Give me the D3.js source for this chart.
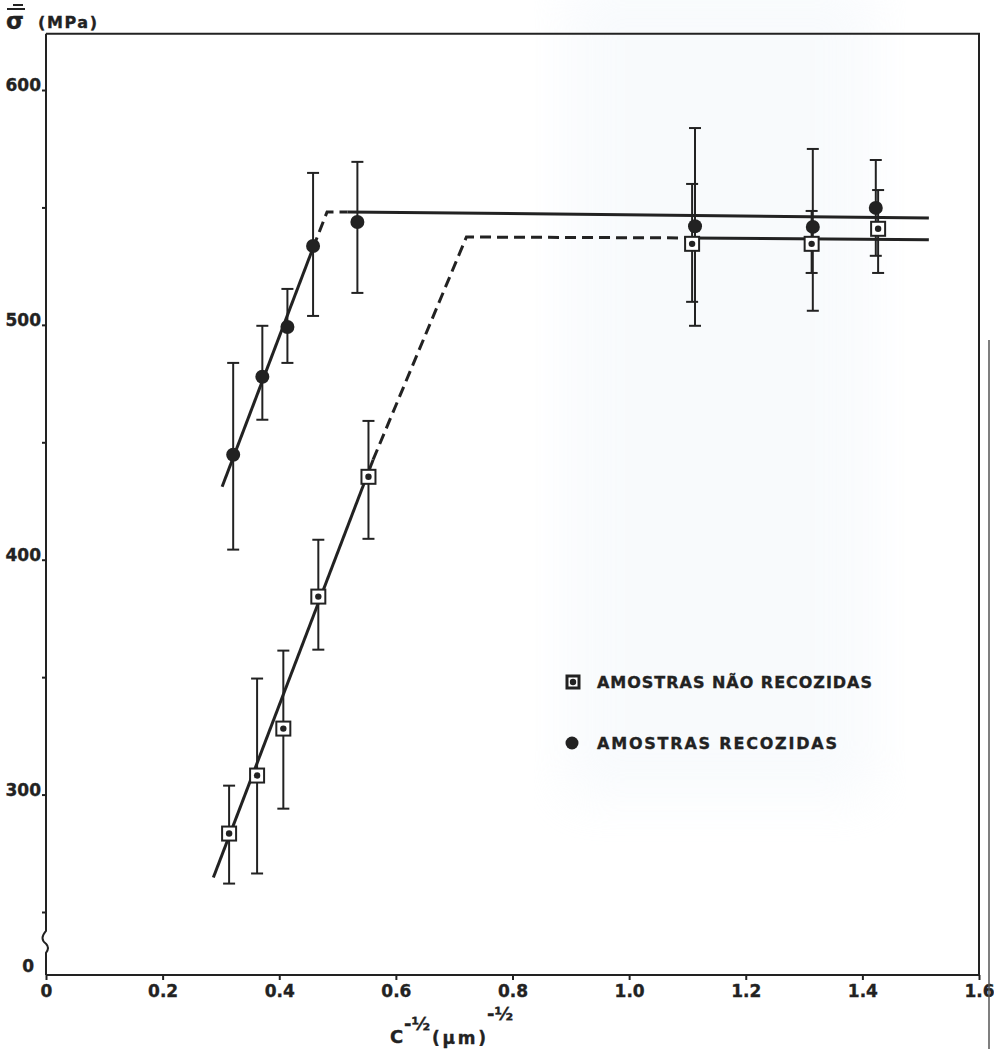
<!DOCTYPE html>
<html>
<head>
<meta charset="utf-8">
<script src="https://cdn.jsdelivr.net/npm/d3@7"></script>
<style>
  body { margin: 0; background: #fff; }
  text { font-family: "DejaVu Sans", sans-serif; font-weight: bold; fill: #222; stroke: #222; stroke-width: 0.35; }
</style>
</head>
<body>
<script>
// axis ticks
const xTicks = [0, 0.2, 0.4, 0.6, 0.8, 1.0, 1.2, 1.4, 1.6];
const xTickLabels = ["0", "0.2", "0.4", "0.6", "0.8", "1.0", "1.2", "1.4", "1.6"];
const yTicks = [300, 400, 500, 600];
const yMinorTicks = [250, 350, 450, 550];

// amostras recozidas (filled circles)
const annealedX = [0.321, 0.371, 0.414, 0.458, 0.534, 1.113, 1.315, 1.423];
const annealedY = [444.7, 477.9, 499.1, 533.6, 543.8, 542.0, 541.7, 549.8];
const annealedHi = [483.8, 499.6, 515.3, 564.7, 569.4, 583.8, 574.9, 570.2];
const annealedLo = [404.3, 459.6, 483.8, 503.8, 513.6, 499.6, 506.0, 529.4];

// amostras nao recozidas (boxed squares)
const plainX = [0.314, 0.362, 0.407, 0.467, 0.553, 1.108, 1.313, 1.427];
const plainY = [283.4, 308.1, 328.1, 384.3, 435.3, 534.5, 534.5, 540.9];
const plainHi = [303.8, 349.4, 361.3, 408.5, 459.1, 560.0, 548.5, 557.4];
const plainLo = [262.1, 266.4, 294.0, 361.7, 408.9, 509.8, 522.1, 522.1];

// fitted lines, one dash flag per segment
const annealedFitX = [0.302, 0.458, 0.482, 0.517, 1.514];
const annealedFitY = [431.1, 532.8, 548.1, 548.1, 545.5];
const annealedFitDash = [false, true, true, false];
const plainFitX = [0.287, 0.561, 0.721, 1.106, 1.514];
const plainFitY = [264.7, 442.6, 537.4, 537.0, 536.2];
const plainFitDash = [false, true, true, false];

const legendLabels = ["AMOSTRAS NÃO RECOZIDAS", "AMOSTRAS RECOZIDAS"];

const ink = "#222";
const svg = d3.select("body").append("svg")
  .attr("width", 994)
  .attr("height", 1049);

const x = d3.scaleLinear().domain([0, 1.6]).range([46, 979]);
const y = d3.scaleLinear().domain([250, 600]).range([912, 90]);
const plotTop = y(624);
const plotBottom = 975;   // broken axis: the zero line sits below the break

// faint bluish tint of the scanned paper
const defs = svg.append("defs");
defs.append("filter").attr("id", "blur")
  .append("feGaussianBlur").attr("stdDeviation", 25);
svg.append("rect")
  .attr("x", 565).attr("y", -20).attr("width", 310).attr("height", 820)
  .attr("fill", "#e9f1f8").attr("opacity", 0.3)
  .attr("filter", "url(#blur)");

// frame: top, right and bottom
svg.append("path")
  .attr("d", `M${x(0)},${plotTop} H${x(1.6)} V${plotBottom} H${x(0)}`)
  .attr("fill", "none").attr("stroke", ink).attr("stroke-width", 2);

// left axis with break
const x0 = x(0);
const yb = y(242);
svg.append("path")
  .attr("d", `M${x0},${plotTop} V${yb} Q${x0 - 7},${yb + 8} ${x0},${yb + 13} ` +
             `Q${x0 + 4},${yb + 17} ${x0},${yb + 22} V${plotBottom}`)
  .attr("fill", "none").attr("stroke", ink).attr("stroke-width", 2);

// x axis
const xAxis = svg.append("g")
  .attr("transform", `translate(0,${plotBottom})`)
  .call(d3.axisBottom(x).tickValues(xTicks)
    .tickFormat((d, i) => xTickLabels[i])
    .tickSize(5).tickSizeOuter(0).tickPadding(5));
xAxis.select(".domain").remove();
xAxis.selectAll("line").attr("stroke", ink).attr("stroke-width", 2);
xAxis.selectAll("text").style("font-size", "17px").attr("fill", ink)
  .style("font-family", "DejaVu Sans").style("font-weight", "bold");

// y axis
const yAxis = svg.append("g")
  .attr("transform", `translate(${x0},0)`)
  .call(d3.axisLeft(y).tickValues(yTicks).tickSize(4).tickPadding(1));
yAxis.select(".domain").remove();
yAxis.selectAll("line").attr("stroke", ink).attr("stroke-width", 2);
yAxis.selectAll("text").style("font-size", "17px").attr("fill", ink)
  .style("font-family", "DejaVu Sans").style("font-weight", "bold")
  .attr("dy", "0.05em");

const yMinor = svg.append("g")
  .attr("transform", `translate(${x0},0)`)
  .call(d3.axisLeft(y).tickValues(yMinorTicks).tickSize(4).tickFormat(""));
yMinor.select(".domain").remove();
yMinor.selectAll("line").attr("stroke", ink).attr("stroke-width", 2);

svg.append("text").attr("x", 34).attr("y", 972)
  .attr("text-anchor", "end").style("font-size", "17px").text("0");

// axis titles
svg.append("text").attr("x", 6).attr("y", 29).style("font-size", "23px").text("σ");
svg.append("line").attr("x1", 13).attr("x2", 23).attr("y1", 5).attr("y2", 5)
  .attr("stroke", ink).attr("stroke-width", 2);
svg.append("line").attr("x1", 7).attr("x2", 25).attr("y1", 9).attr("y2", 9)
  .attr("stroke", ink).attr("stroke-width", 2);
svg.append("text").attr("x", 38).attr("y", 28).style("font-size", "16px")
  .attr("textLength", 59).attr("lengthAdjust", "spacing").text("(MPa)");

svg.append("text").attr("x", 390).attr("y", 1043).style("font-size", "18px").text("C");
svg.append("text").attr("x", 404).attr("y", 1030).style("font-size", "18px").text("-½");
svg.append("text").attr("x", 432).attr("y", 1044).style("font-size", "17px")
  .attr("textLength", 54).attr("lengthAdjust", "spacing").text("(μm)");
svg.append("text").attr("x", 487).attr("y", 1020).style("font-size", "18px").text("-½");

// error bars
function errorBars(xs, his, los) {
  const g = svg.append("g").attr("stroke", ink).attr("stroke-width", 2);
  xs.forEach(function(d, i) {
    const px = x(d);
    g.append("line").attr("x1", px).attr("x2", px)
      .attr("y1", y(his[i])).attr("y2", y(los[i]));
    [his[i], los[i]].forEach(function(v) {
      g.append("line").attr("x1", px - 6).attr("x2", px + 6)
        .attr("y1", y(v)).attr("y2", y(v));
    });
  });
}
errorBars(plainX, plainHi, plainLo);
errorBars(annealedX, annealedHi, annealedLo);

// fitted lines, consecutive segments of the same style are merged
function fitLine(xs, ys, dash) {
  const line = d3.line().x(d => x(d[0])).y(d => y(d[1]));
  let run = [[xs[0], ys[0]]];
  for (let i = 0; i < dash.length; i++) {
    run.push([xs[i + 1], ys[i + 1]]);
    if (i == dash.length - 1 || dash[i + 1] != dash[i]) {
      svg.append("path")
        .attr("d", line(run))
        .attr("fill", "none")
        .attr("stroke", ink)
        .attr("stroke-width", 3)
        .attr("stroke-dasharray", dash[i] ? "11,6" : null);
      run = [[xs[i + 1], ys[i + 1]]];
    }
  }
}
fitLine(annealedFitX, annealedFitY, annealedFitDash);
fitLine(plainFitX, plainFitY, plainFitDash);

// markers
function boxMarker(g, px, py, s) {
  g.append("rect")
    .attr("x", px - s / 2).attr("y", py - s / 2)
    .attr("width", s).attr("height", s)
    .attr("fill", "#fff").attr("stroke", ink).attr("stroke-width", 2);
  g.append("circle").attr("cx", px).attr("cy", py).attr("r", 3.2).attr("fill", ink);
}

const marks = svg.append("g");
plainX.forEach(function(d, i) { boxMarker(marks, x(d), y(plainY[i]), 14); });
marks.selectAll(".dot")
  .data(annealedX)
  .enter()
  .append("circle")
  .attr("class", "dot")
  .attr("cx", d => x(d))
  .attr("cy", (d, i) => y(annealedY[i]))
  .attr("r", 7)
  .attr("fill", ink);

// legend
const legend = svg.append("g");
boxMarker(legend, 573, 682, 12);
legend.append("rect").attr("x", 567).attr("y", 676).attr("width", 12).attr("height", 12)
  .attr("fill", "none").attr("stroke", ink).attr("stroke-width", 3);
legend.append("circle").attr("cx", 572).attr("cy", 743).attr("r", 6.5).attr("fill", ink);
legend.append("text").attr("x", 597).attr("y", 688).style("font-size", "16px")
  .attr("textLength", 275).attr("lengthAdjust", "spacing").text(legendLabels[0]);
legend.append("text").attr("x", 597).attr("y", 749).style("font-size", "16px")
  .attr("textLength", 240).attr("lengthAdjust", "spacing").text(legendLabels[1]);

// edge of the scanned page
svg.append("line").attr("x1", 989).attr("x2", 989).attr("y1", 340).attr("y2", 1049)
  .attr("stroke", "#555").attr("stroke-width", 1.5);
</script>
</body>
</html>
